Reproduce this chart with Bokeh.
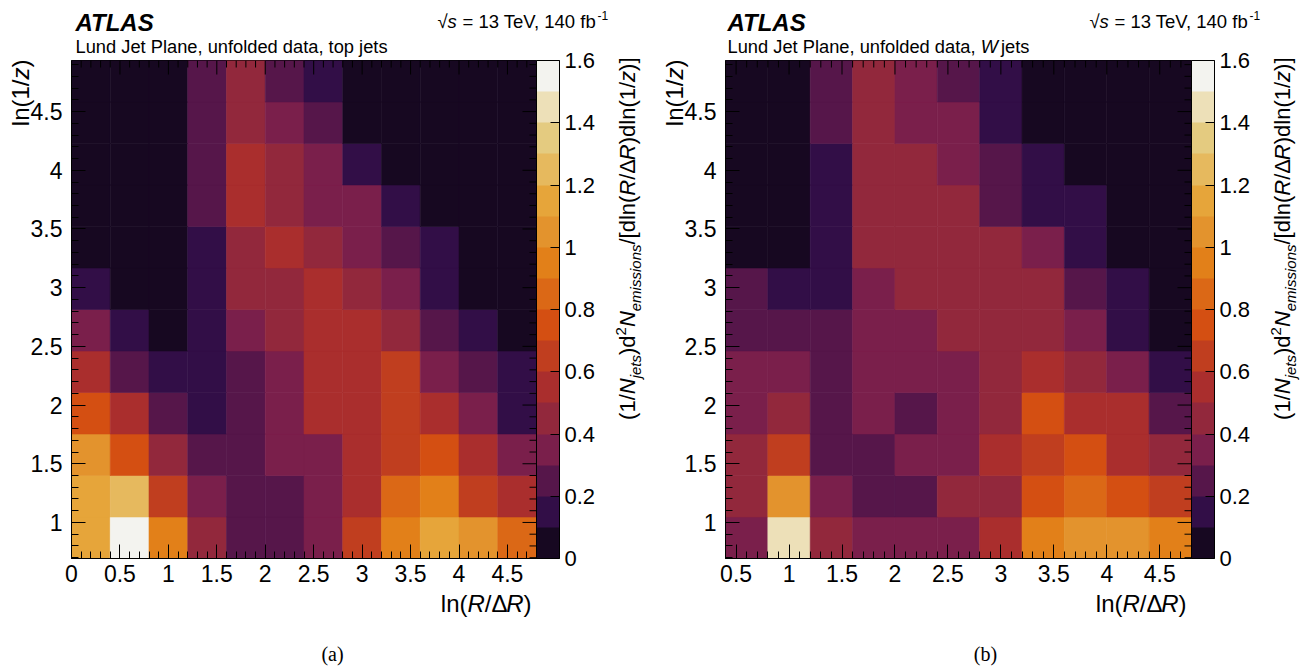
import math
import numpy as np
from bokeh.plotting import figure
from bokeh.models import (LinearColorMapper, ColorBar, FixedTicker, CustomJSTickFormatter,
                          Label, Range1d, ColumnDataSource, GridBox)
from bokeh.layouts import row, column
from bokeh.embed import file_html
from bokeh.resources import INLINE

# ---------------- data ----------------
PALETTE = ["#170821", "#320e47", "#56164a", "#7a1f4b", "#92283c", "#aa2e2d", "#c03e1f", "#d44f12",
           "#db6816", "#e28019", "#e3932d", "#e6a53a", "#e6b95e", "#e4cb80", "#ede0b8", "#f3f3ef"]
Z_LOW, Z_HIGH = 0.0, 1.6
CBAR_TICKS = [0.0, 0.2, 0.4, 0.6, 0.8, 1.0, 1.2, 1.4, 1.6]

X_EDGES_TOP = [0.0, 0.4, 0.8, 1.2, 1.6, 2.0, 2.4, 2.8, 3.2, 3.6, 4.0, 4.4, 4.8]
X_EDGES_W = [0.4, 0.8, 1.2, 1.6, 2.0, 2.4, 2.8, 3.2, 3.6, 4.0, 4.4, 4.8]
Y_EDGES = [0.693, 1.047, 1.400, 1.754, 2.107, 2.461, 2.814, 3.168, 3.521, 3.875, 4.228, 4.582, 4.935]

X_TICKS_TOP = [0, 0.5, 1, 1.5, 2, 2.5, 3, 3.5, 4, 4.5]
X_TICKS_W = [0.5, 1, 1.5, 2, 2.5, 3, 3.5, 4, 4.5]
Y_TICKS = [1, 1.5, 2, 2.5, 3, 3.5, 4, 4.5]

# rows listed from the top row (highest ln(1/z)) down to the bottom row
VALUES_TOP = [
    [0.05, 0.05, 0.05, 0.25, 0.45, 0.25, 0.15, 0.05, 0.05, 0.05, 0.05, 0.05],
    [0.05, 0.05, 0.05, 0.25, 0.45, 0.35, 0.25, 0.05, 0.05, 0.05, 0.05, 0.05],
    [0.05, 0.05, 0.05, 0.25, 0.55, 0.45, 0.35, 0.15, 0.05, 0.05, 0.05, 0.05],
    [0.05, 0.05, 0.05, 0.25, 0.55, 0.45, 0.35, 0.35, 0.15, 0.05, 0.05, 0.05],
    [0.05, 0.05, 0.05, 0.15, 0.45, 0.55, 0.45, 0.35, 0.25, 0.15, 0.05, 0.05],
    [0.15, 0.05, 0.05, 0.15, 0.45, 0.45, 0.55, 0.45, 0.35, 0.15, 0.05, 0.05],
    [0.35, 0.15, 0.05, 0.15, 0.35, 0.45, 0.55, 0.55, 0.45, 0.25, 0.15, 0.05],
    [0.55, 0.25, 0.15, 0.15, 0.25, 0.35, 0.55, 0.55, 0.65, 0.35, 0.25, 0.15],
    [0.75, 0.55, 0.25, 0.15, 0.25, 0.35, 0.55, 0.55, 0.65, 0.55, 0.35, 0.15],
    [1.05, 0.75, 0.45, 0.25, 0.25, 0.35, 0.35, 0.55, 0.65, 0.75, 0.55, 0.35],
    [1.15, 1.25, 0.65, 0.35, 0.25, 0.25, 0.35, 0.55, 0.85, 0.95, 0.65, 0.55],
    [1.15, 1.55, 0.95, 0.45, 0.25, 0.25, 0.35, 0.65, 0.95, 1.15, 1.05, 0.85],
]
VALUES_W = [
    [0.05, 0.05, 0.25, 0.45, 0.35, 0.25, 0.15, 0.05, 0.05, 0.05, 0.05],
    [0.05, 0.05, 0.25, 0.45, 0.35, 0.35, 0.15, 0.05, 0.05, 0.05, 0.05],
    [0.05, 0.05, 0.15, 0.45, 0.45, 0.35, 0.25, 0.15, 0.05, 0.05, 0.05],
    [0.05, 0.05, 0.15, 0.45, 0.45, 0.45, 0.25, 0.15, 0.15, 0.05, 0.05],
    [0.05, 0.05, 0.15, 0.45, 0.45, 0.45, 0.45, 0.35, 0.15, 0.05, 0.05],
    [0.25, 0.15, 0.15, 0.35, 0.45, 0.45, 0.45, 0.45, 0.25, 0.15, 0.05],
    [0.25, 0.25, 0.25, 0.35, 0.35, 0.45, 0.45, 0.45, 0.35, 0.15, 0.05],
    [0.35, 0.35, 0.25, 0.35, 0.35, 0.35, 0.45, 0.55, 0.45, 0.35, 0.15],
    [0.35, 0.45, 0.25, 0.35, 0.25, 0.35, 0.45, 0.75, 0.55, 0.55, 0.25],
    [0.45, 0.65, 0.25, 0.25, 0.35, 0.35, 0.55, 0.65, 0.75, 0.55, 0.45],
    [0.45, 1.05, 0.35, 0.25, 0.25, 0.45, 0.45, 0.75, 0.85, 0.75, 0.65],
    [0.35, 1.45, 0.45, 0.35, 0.35, 0.35, 0.55, 0.95, 1.05, 1.05, 0.95],
]

# ---------------- styling ----------------
FONT = "Liberation Sans"
SERIF = "Liberation Serif"
CW = {' ': 278, '(': 333, ')': 333, ',': 278, '-': 333, '.': 278, '/': 278, '=': 584, '[': 278, ']': 278,
      'A': 667, 'J': 500, 'L': 556, 'N': 722, 'P': 667, 'R': 722, 'S': 667, 'T': 611, 'V': 667, 'W': 1100,
      'a': 556, 'b': 556, 'd': 556, 'e': 556, 'f': 278, 'i': 222, 'j': 222, 'l': 222, 'm': 833, 'n': 556,
      'o': 556, 'p': 556, 's': 500, 't': 278, 'u': 556, 'z': 500, 'Δ': 612, '√': 549}
BASE_K = 0.35   # baseline correction (fraction of font size)


def tw(s, size):
    return sum(CW.get(c, 556) for c in s) / 1000.0 * size


PAGE_W, PAGE_H = 1304, 669
FIG_W = 652
BORDER_TOP = 60
FRAME_H = 498
TICK_MAJOR = 14
TICK_MINOR = 7


def make_panel(values, x_edges, x_ticks, border_left, frame_w):
    x0, x1 = x_edges[0], x_edges[-1]
    y0, y1 = Y_EDGES[0], Y_EDGES[-1]
    dx = (x1 - x0) / frame_w
    dy = (y1 - y0) / FRAME_H

    p = figure(width=FIG_W, height=PAGE_H, output_backend="svg", toolbar_location=None,
               x_range=Range1d(x0, x1), y_range=Range1d(y0, y1),
               min_border_left=border_left, min_border_right=FIG_W - border_left - frame_w,
               min_border_top=BORDER_TOP, min_border_bottom=PAGE_H - BORDER_TOP - FRAME_H)
    p.grid.visible = False
    p.outline_line_color = "black"
    p.outline_line_width = 1
    p.background_fill_color = "white"
    p.border_fill_color = "white"

    mapper = LinearColorMapper(palette=PALETTE, low=Z_LOW, high=Z_HIGH)
    left, right, bottom, top, val = [], [], [], [], []
    for i, r in enumerate(reversed(values)):
        for j, v in enumerate(r):
            left.append(x_edges[j]); right.append(x_edges[j + 1])
            bottom.append(Y_EDGES[i]); top.append(Y_EDGES[i + 1]); val.append(v)
    src = ColumnDataSource(dict(left=left, right=right, bottom=bottom, top=top, value=val))
    p.quad(left="left", right="right", bottom="bottom", top="top", source=src,
           fill_color={"field": "value", "transform": mapper},
           line_color={"field": "value", "transform": mapper}, line_width=0.6)

    fmt = CustomJSTickFormatter(code="return String(Math.round(tick*10)/10);")
    x_minor = [round(v, 2) for v in np.arange(x0, x1 + 1e-6, 0.1)]
    y_minor = [round(v, 2) for v in np.arange(0.7, y1, 0.1)]
    xt = FixedTicker(ticks=x_ticks, minor_ticks=x_minor)
    yt = FixedTicker(ticks=Y_TICKS, minor_ticks=y_minor)

    for ax, t in ((p.xaxis[0], xt), (p.yaxis[0], yt)):
        ax.ticker = t
        ax.formatter = fmt
        ax.major_tick_in = TICK_MAJOR
        ax.major_tick_out = 0
        ax.minor_tick_in = TICK_MINOR
        ax.minor_tick_out = 0
        ax.major_label_text_font = FONT
        ax.major_label_text_font_size = "23px"
        ax.major_label_text_color = "black"
        ax.axis_line_color = "black"
    p.xaxis.major_label_standoff = 6
    p.yaxis.major_label_standoff = 9

    # mirrored ticks on the top and right frame edges (same tick lists)
    top_minor = [t for t in x_minor if t not in x_ticks]
    p.segment(x0=x_ticks, x1=x_ticks, y0=[y1 - TICK_MAJOR * dy] * len(x_ticks),
              y1=[y1] * len(x_ticks), line_color="black", line_width=1)
    p.segment(x0=top_minor, x1=top_minor, y0=[y1 - TICK_MINOR * dy] * len(top_minor),
              y1=[y1] * len(top_minor), line_color="black", line_width=1)
    r_minor = [t for t in y_minor if t not in Y_TICKS]
    p.segment(x0=[x1 - TICK_MAJOR * dx] * len(Y_TICKS), x1=[x1] * len(Y_TICKS), y0=Y_TICKS, y1=Y_TICKS,
              line_color="black", line_width=1)
    p.segment(x0=[x1 - TICK_MINOR * dx] * len(r_minor), x1=[x1] * len(r_minor), y0=r_minor, y1=r_minor,
              line_color="black", line_width=1)

    cb = ColorBar(color_mapper=mapper, ticker=FixedTicker(ticks=CBAR_TICKS), formatter=fmt,
                  width=23, height=FRAME_H, location="top_left", margin=7, padding=0,
                  major_label_text_font=FONT, major_label_text_font_size="22px",
                  major_label_text_color="black",
                  major_tick_in=9, major_tick_out=0, major_tick_line_color="black",
                  bar_line_color="black", bar_line_width=1, border_line_color=None,
                  background_fill_alpha=0, label_standoff=5)
    p.add_layout(cb, "right")
    return p


pa = make_panel(VALUES_TOP, X_EDGES_TOP, X_TICKS_TOP, border_left=71, frame_w=465)
pb = make_panel(VALUES_W, X_EDGES_W, X_TICKS_W, border_left=73, frame_w=466)

# ---------------- transparent text layer (page pixel coordinates) ----------------
ov = figure(width=PAGE_W, height=PAGE_H, output_backend="svg", toolbar_location=None,
            x_range=Range1d(0, PAGE_W), y_range=Range1d(PAGE_H, 0),
            x_axis_location=None, y_axis_location=None, min_border=0,
            background_fill_alpha=0, border_fill_alpha=0, outline_line_color=None)
ov.grid.visible = False


def lab(px, py, text, size, style="normal", align="left", rotated=False, font=FONT):
    if rotated:
        px, angle = px - BASE_K * size, math.pi / 2
    else:
        py, angle = py - BASE_K * size, 0.0
    ov.add_layout(Label(x=px, y=py, text=text, text_font=font, text_font_size=f"{size}px",
                        text_font_style=style, text_align=align, text_baseline="alphabetic",
                        angle=angle, text_color="black"))


def hrun(px, py, pieces):
    for text, style, size, shift in pieces:
        lab(px, py + shift, text, size, style)
        px += tw(text, size)


def vrun_end(px, py_end, pieces):
    total = sum(tw(t, s) for t, _, s, _ in pieces)
    py = py_end + total
    for text, style, size, shift in pieces:
        lab(px + shift, py, text, size, style, rotated=True)
        py -= tw(text, size)


def panel_texts(page_left, fl, fr, lund_pieces, caption, caption_x):
    lab(page_left + 75, 30, "ATLAS", 24, "bold italic")
    hrun(page_left + 75, 52, lund_pieces)
    # centre-of-mass energy and luminosity
    lab(page_left + 437, 27, "√", 18.5)
    lab(page_left + 447, 27, "s", 18.5, "italic")
    lab(page_left + 462, 27, "= 13 TeV, 140 fb", 18.5)
    lab(page_left + 597, 19, "-1", 12)
    xt_pieces = [("ln(", "normal", 24, 0), ("R", "italic", 24, 0), ("/Δ", "normal", 24, 0),
                 ("R", "italic", 24, 0), (")", "normal", 24, 0)]
    total = sum(tw(t, s) for t, _, s, _ in xt_pieces)
    hrun(fr - 5 - total, 611, xt_pieces)
    vrun_end(fl - 43, 59, [("ln(1/", "normal", 24, 0), ("z", "italic", 24, 0), (")", "normal", 24, 0)])
    cb_pieces = [("(1/", "normal", 22, 0), ("N", "italic", 22, 0), ("jets", "italic", 15, 5),
                 (")d", "normal", 22, 0), ("2", "normal", 15, -9), ("N", "italic", 22, 0),
                 ("emissions", "italic", 15, 5), ("/[dln(", "normal", 22, 0), ("R", "italic", 22, 0),
                 ("/Δ", "normal", 22, 0), ("R", "italic", 22, 0), (")dln(1/", "normal", 22, 0),
                 ("z", "italic", 22, 0), (")]", "normal", 22, 0)]
    vrun_end(fr + 99, 57, cb_pieces)
    lab(caption_x, 660, caption, 20, "normal", align="center", font=SERIF)


panel_texts(0, 71, 536, [("Lund Jet Plane, unfolded data, top jets", "normal", 18.3, 0)], "(a)", 332)
panel_texts(652, 725, 1191, [("Lund Jet Plane, unfolded data, ", "normal", 18.3, 0), ("W", "italic", 18.3, 0),
                             (" jets", "normal", 18.3, 0)], "(b)", 985)

layout = GridBox(children=[(row(pa, pb, spacing=0), 0, 0), (column(ov), 0, 0)], spacing=0)
open("out.html", "w").write(file_html(layout, INLINE))
